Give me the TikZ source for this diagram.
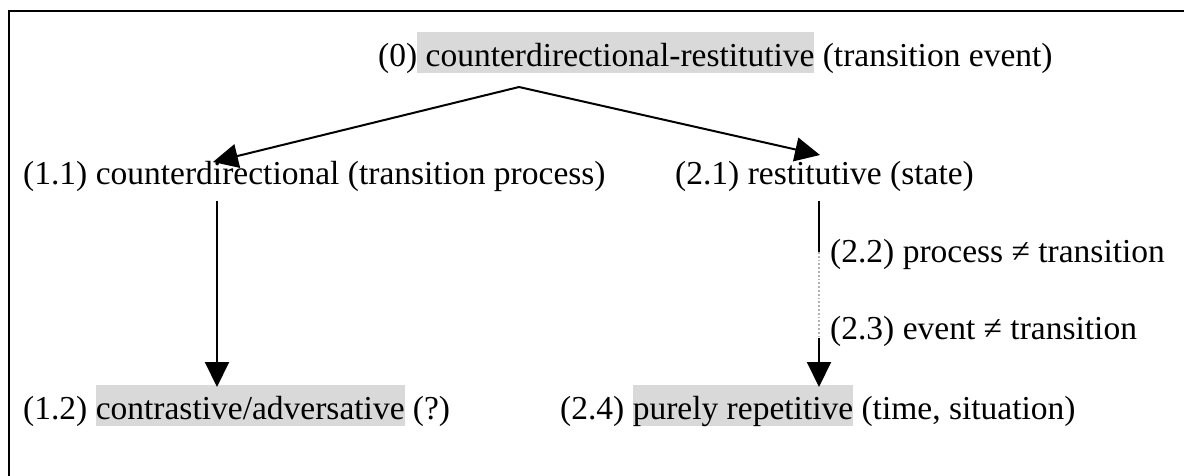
\documentclass[tikz,border=0pt]{standalone}
\usepackage{fontspec}
\setmainfont{Liberation Serif}
\usetikzlibrary{arrows.meta}
\definecolor{hlgray}{HTML}{D9D9D9}
\newcommand{\hlbox}[1]{{\setlength{\fboxsep}{0pt}\colorbox{hlgray}{\rule[-0.21em]{0pt}{1.23em}#1}}}
\begin{document}
\begin{tikzpicture}[x=1pt,y=-1pt,
  lbl/.style={anchor=base west, inner sep=0pt, font=\fontsize{33.5}{40}\selectfont},
  arr/.style={-{Triangle[length=25pt,width=24pt]}, line width=2pt},
  plain/.style={line width=2pt},
  dotline/.style={line width=1.8pt, draw=gray!60, dotted},
  frame/.style={line width=2.4pt}]
\path[use as bounding box] (0,0) rectangle (1184,475);
\begin{scope}
  \clip (0,0) rectangle (1184,475);
  \draw[frame] (9,11) rectangle (1200,500);
\end{scope}
% nodes
\node[lbl] (n0)  at (378,66)  {(0)\hlbox{ counterdirectional-restitutive} (transition event)};
\node[lbl] (n11) at (23,184)  {(1.1) counterdirectional (transition process)};
\node[lbl] (n21) at (675,184) {(2.1) restitutive (state)};
\node[lbl] (n22) at (830,262) {(2.2) process ≠ transition};
\node[lbl] (n23) at (830,339) {(2.3) event ≠ transition};
\node[lbl] (n12) at (23,419)  {(1.2) \hlbox{contrastive/adversative} (?)};
\node[lbl] (n24) at (560,419) {(2.4) \hlbox{purely repetitive} (time, situation)};
% connector points
\coordinate (apex) at (519,87);
\coordinate (t11) at (213,162);
\coordinate (t21) at (820,155);
\coordinate (s11) at (217,201);
\coordinate (t12) at (217,387);
\coordinate (s21) at (819,201);
\coordinate (d1) at (819,252);
\coordinate (d2) at (819,338);
\coordinate (t24) at (819,387);
% connectors
\draw[arr] (apex) -- (t11);
\draw[arr] (apex) -- (t21);
\draw[arr] (s11) -- (t12);
\draw[plain] (s21) -- (d1);
\draw[dotline] (d1) -- (d2);
\draw[arr] (d2) -- (t24);
\end{tikzpicture}
\end{document}
